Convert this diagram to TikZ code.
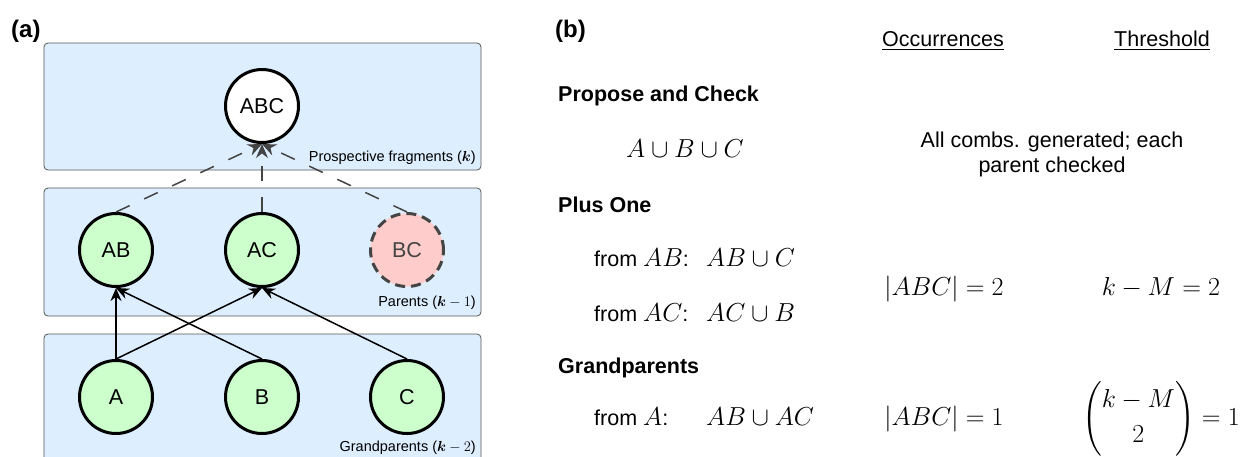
\documentclass[tikz,border=0pt]{standalone}
\usepackage{fix-cm}
\usepackage{amsmath}
\usepackage[no-math]{fontspec}
\setmainfont{Liberation Sans}
\usetikzlibrary{arrows.meta}
\definecolor{layerfill}{RGB}{221,238,255}
\definecolor{layerdraw}{RGB}{85,85,85}
\definecolor{goodfill}{RGB}{204,255,204}
\definecolor{badfill}{RGB}{255,204,204}
\definecolor{darkline}{RGB}{68,68,68}
\newcommand\fsCirc{\fontsize{21.5}{25}\selectfont}
\newcommand\fsSmall{\fontsize{14.5}{17}\selectfont}
\newcommand\fsBody{\fontsize{21.5}{24.5}\selectfont}
\newcommand\fsMath{\fontsize{26}{30}\selectfont}
\newcommand\fsPanel{\fontsize{24}{28}\selectfont\bfseries}
\newcommand\mth[1]{{\fsMath$#1$}}
\begin{document}
\begin{tikzpicture}[x=1pt,y=-1pt,
  layerbox/.style={draw=layerdraw,fill=layerfill,rounded corners=4pt,line width=0.8pt},
  circ/.style={circle,minimum size=73pt,inner sep=0pt,line width=3pt,draw=black,fill=goodfill,font=\fsCirc},
  topcirc/.style={circ,fill=white},
  badcirc/.style={circ,fill=badfill,draw=darkline,text=darkline,dash pattern=on 10pt off 6pt},
  layerlabel/.style={anchor=base east,inner sep=0pt,font=\fsSmall},
  up/.style={draw=black,line width=1.5pt,-{Stealth[length=13pt,width=11pt]}},
  dashup/.style={draw=darkline,line width=1.5pt,dash pattern=on 15pt off 16pt,-{Stealth[length=14pt,width=12pt]}},
  body/.style={inner sep=0pt,font=\fsBody},
  bodyw/.style={body,anchor=base west},
  mathn/.style={inner sep=0pt,font=\fsMath},
  head/.style={anchor=base west,inner sep=0pt,font=\fsBody\bfseries},
  panel/.style={anchor=base west,inner sep=0pt,font=\fsPanel}]
\useasboundingbox (0,0) rectangle (1242,456);
\begin{scope}
\clip (0,0) rectangle (1242,456);
\path[layerbox] (44,43) rectangle (481,170);
\path[layerbox] (44,188) rectangle (481,316);
\path[layerbox] (44,334) rectangle (481,480);
\end{scope}
% panel labels
\node[panel] (pa) at (11,37) {(a)};
\node[panel] (pb) at (555,37) {(b)};
% nodes
\node[topcirc] (ABC) at (262,106) {ABC};
\node[circ] (AB) at (116,250) {AB};
\node[circ] (AC) at (262,250) {AC};
\node[badcirc] (BC) at (407,250) {BC};
\node[circ] (A) at (116,397) {A};
\node[circ] (B) at (262,397) {B};
\node[circ] (C) at (407,397) {C};
% layer labels
\node[layerlabel] (lk) at (476,161) {Prospective fragments ($\boldsymbol{k}$)};
\node[layerlabel] (lk1) at (476,306) {Parents ($\boldsymbol{k}-1$)};
\node[layerlabel] (lk2) at (476,451) {Grandparents ($\boldsymbol{k}-2$)};
% connectors
\draw[up] (A.north) -- (AB.south);
\draw[up] (A.north) -- (AC.south);
\draw[up] (B.north) -- (AB.south);
\draw[up] (C.north) -- (AC.south);
\draw[dashup] (AB.north) -- (ABC.south);
\draw[dashup] (AC.north) -- (ABC.south);
\draw[dashup] (BC.north) -- (ABC.south);
% right panel
\node[body,anchor=base] (occ) at (943,46) {\underline{Occurrences}};
\node[body,anchor=base] (thr) at (1162,46) {\underline{Threshold}};
\node[head] (pc) at (558,101) {Propose and Check};
\node[mathn,anchor=base] (abc) at (685,157) {$A\cup B\cup C$};
\node[body,align=center,anchor=north] (allc) at (1052,132) {All combs. generated; each\\parent checked};
\node[head] (po) at (558,212) {Plus One};
\node[bodyw] (fab) at (594,266) {from \mth{AB}:};
\node[mathn,anchor=base west] (fabm) at (706,266) {$AB\cup C$};
\node[bodyw] (fac) at (594,321) {from \mth{AC}:};
\node[mathn,anchor=base west] (facm) at (706,321) {$AC\cup B$};
\node[mathn,anchor=base] (o2) at (944,295) {$|ABC|=2$};
\node[mathn,anchor=base] (t2) at (1161,295) {$k-M=2$};
\node[head] (gp) at (558,373) {Grandparents};
\node[bodyw] (fa) at (594,425) {from \mth{A}:};
\node[mathn,anchor=base west] (abac) at (706,425) {$AB\cup AC$};
\node[mathn,anchor=base] (o1) at (944,425) {$|ABC|=1$};
\node[mathn,anchor=base east] (t1) at (1240,425) {$\dbinom{k-M}{2}=1$};
\end{tikzpicture}
\end{document}
